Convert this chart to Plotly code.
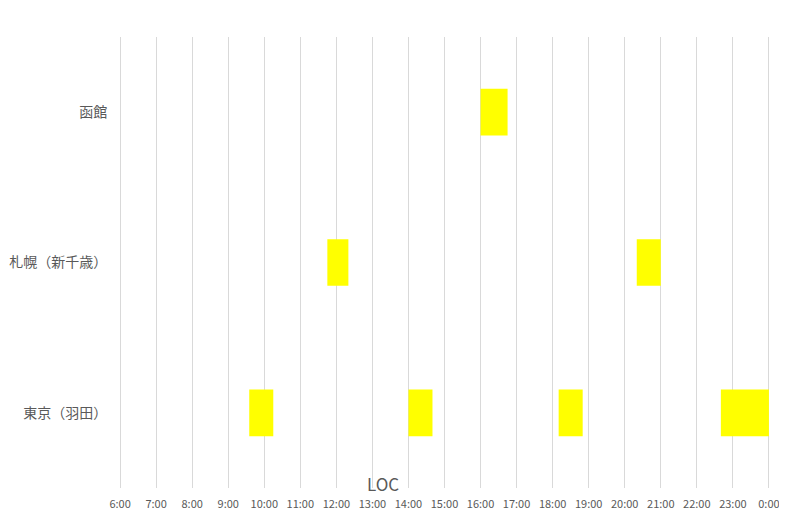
import plotly.graph_objects as go

categories = ["東京（羽田）", "札幌（新千歳）", "函館"]
flight_airport = ["東京（羽田）", "東京（羽田）", "東京（羽田）", "東京（羽田）",
                  "札幌（新千歳）", "札幌（新千歳）", "函館"]
start_times = ["9:35", "14:00", "18:10", "22:40", "11:45", "20:20", "16:00"]
end_times = ["10:15", "14:40", "18:50", "24:00", "12:20", "21:00", "16:45"]
tick_hours = list(range(6, 25))
tick_labels = [f"{h % 24}:00" for h in tick_hours]


def to_hours(t):
    h, m = t.split(":")
    return int(h) + int(m) / 60


starts = [to_hours(t) for t in start_times]
durations = [to_hours(e) - to_hours(s) for s, e in zip(start_times, end_times)]

fig = go.Figure(
    go.Bar(
        y=flight_airport,
        x=durations,
        base=starts,
        orientation="h",
        width=0.31,
        marker=dict(color="#FFFF00", line=dict(width=0)),
        showlegend=False,
    )
)

# page body has an 8px margin: figure sits at (8, 8) in the window
W, H = 779, 502
ml, mr, mt, mb = 111, 17, 29, 22
font_fam = "Noto Sans CJK JP, Noto Sans, sans-serif"
fig.update_layout(
    width=W,
    height=H,
    margin=dict(l=ml, r=mr, t=mt, b=mb),
    plot_bgcolor="white",
    paper_bgcolor="white",
    font=dict(family=font_fam, color="#595959"),
    xaxis=dict(
        range=[5.97, 24.03],
        tickvals=tick_hours,
        ticktext=tick_labels,
        showgrid=True,
        gridcolor="#d9d9d9",
        gridwidth=1,
        zeroline=False,
        showline=False,
        ticks="outside",
        ticklen=6,
        tickcolor="rgba(0,0,0,0)",
        tickfont=dict(size=11, color="#595959"),
        automargin=False,
    ),
    yaxis=dict(
        categoryorder="array",
        categoryarray=categories,
        range=[-0.5, 2.5],
        showgrid=False,
        zeroline=False,
        showline=False,
        ticks="outside",
        ticklen=8,
        tickcolor="rgba(0,0,0,0)",
        tickfont=dict(size=14, color="#595959"),
        automargin=False,
    ),
    annotations=[
        dict(
            text="LOC",
            x=(383 - 120) / (769 - 120),
            y=(487 - 483) / (487 - 37),
            xref="paper",
            yref="paper",
            showarrow=False,
            font=dict(size=17, color="#595959", family=font_fam),
            xanchor="center",
            yanchor="middle",
        )
    ],
)

fig.write_html("out.html")
